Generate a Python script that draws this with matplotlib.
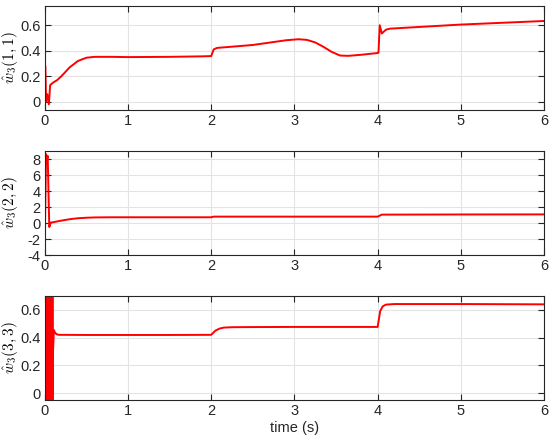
import matplotlib
matplotlib.use("Agg")
import matplotlib.pyplot as plt

plt.rcParams['font.family'] = ['Liberation Sans', 'DejaVu Sans']
plt.rcParams['mathtext.fontset'] = 'cm'
plt.rcParams['axes.unicode_minus'] = False

# ---- data ----
t1 = [0.0, 0.008, 0.016, 0.03, 0.05, 0.065, 0.1, 0.15, 0.2, 0.3, 0.4, 0.5, 0.6, 0.8, 1.0, 1.5,
      1.9, 2.0, 2.03, 2.07, 2.5, 2.9, 3.05, 3.15, 3.25, 3.35, 3.45, 3.55, 3.65, 3.8, 4.0,
      4.01, 4.025, 4.05, 4.1, 4.15, 5.0, 6.0]
w11 = [0.28, 0.28, 0.0, 0.06, -0.02, 0.13, 0.15, 0.17, 0.20, 0.27, 0.32, 0.345, 0.352, 0.352, 0.35, 0.352,
       0.356, 0.358, 0.41, 0.422, 0.445, 0.482, 0.49, 0.485, 0.465, 0.43, 0.39, 0.362, 0.36, 0.368, 0.382,
       0.385, 0.60, 0.535, 0.565, 0.573, 0.605, 0.633]

t2 = [0.0, 0.008, 0.016, 0.025, 0.036, 0.045, 0.055, 0.07, 0.1, 0.2, 0.3, 0.4, 0.5, 0.6, 0.8,
      1.0, 2.0, 2.03, 3.0, 4.0, 4.05, 5.0, 6.0]
w22 = [-2.8, 3.0, 8.6, 8.0, 8.4, 4.0, -0.5, 0.05, 0.1, 0.3, 0.48, 0.6, 0.66, 0.7, 0.72,
       0.72, 0.72, 0.8, 0.8, 0.8, 1.05, 1.07, 1.08]

t3 = [0.0, 0.003, 0.006, 0.009, 0.012, 0.015, 0.018, 0.021, 0.024, 0.027, 0.030, 0.033,
      0.036, 0.039, 0.042, 0.045, 0.048, 0.051, 0.054, 0.057, 0.060, 0.063, 0.066, 0.069,
      0.072, 0.075, 0.078, 0.081, 0.084, 0.087, 0.090, 0.093, 0.096, 0.10, 0.11, 0.12,
      0.14, 0.17, 0.2, 0.5, 1.0, 1.5, 1.98, 2.0, 2.05, 2.1, 2.15, 2.25, 2.5, 3.0, 3.5,
      3.98, 4.0, 4.03, 4.06, 4.1, 4.2, 4.5, 5.0, 6.0]
w33 = [0.0, 0.8, -0.1, 0.8, -0.1, 0.8, -0.1, 0.8, -0.1, 0.8, -0.1, 0.8,
       -0.1, 0.8, -0.1, 0.8, -0.1, 0.8, -0.1, 0.8, -0.1, 0.8, -0.1, 0.8,
       -0.1, 0.8, -0.1, 0.8, -0.1, 0.8, -0.1, 0.8, -0.1, 0.3, 0.455, 0.44,
       0.425, 0.42, 0.42, 0.419, 0.419, 0.419, 0.42, 0.42, 0.45, 0.465, 0.472, 0.475, 0.476, 0.477, 0.477,
       0.477, 0.477, 0.59, 0.625, 0.638, 0.642, 0.642, 0.642, 0.64]

xticks = [0, 1, 2, 3, 4, 5, 6]
panels = [
    (t1, w11, r'$\hat{w}_3(1,1)$', (-0.065, 0.75), [0, 0.2, 0.4, 0.6], ['0', '0.2', '0.4', '0.6']),
    (t2, w22, r'$\hat{w}_3(2,2)$', (-4, 9), [-4, -2, 0, 2, 4, 6, 8], ['-4', '-2', '0', '2', '4', '6', '8']),
    (t3, w33, r'$\hat{w}_3(3,3)$', (-0.05, 0.7), [0, 0.2, 0.4, 0.6], ['0', '0.2', '0.4', '0.6']),
]

fig = plt.figure(figsize=(5.5, 4.42), dpi=100)
bottoms = [0.751, 0.423, 0.095]
for (t, w, lab, yl, yt, ytl), b in zip(panels, bottoms):
    ax = fig.add_axes([0.0813, b, 0.908, 0.2353])
    ax.plot(t, w, color='#ff0000', lw=1.4)
    ax.set_xlim(0, 6)
    ax.set_ylim(*yl)
    ax.set_xticks(xticks)
    ax.set_xticklabels([str(x) for x in xticks])
    ax.set_yticks(yt)
    ax.set_yticklabels(ytl)
    ax.grid(True, color='#e3e3e3', lw=0.8)
    ax.set_axisbelow(True)
    ax.tick_params(direction='in', top=True, right=True, labelsize=10.5, colors='#262626',
                   length=4, width=0.8, pad=3)
    for s in ax.spines.values():
        s.set_color('#262626')
        s.set_linewidth(0.8)
    ax.set_ylabel(lab, fontsize=11)
    ax.yaxis.set_label_coords(-0.05, 0.5)
    if b == bottoms[-1]:
        ax.set_xlabel('time (s)', fontsize=10.5, color='#262626', labelpad=2)

fig.savefig('out.png', dpi=100)
